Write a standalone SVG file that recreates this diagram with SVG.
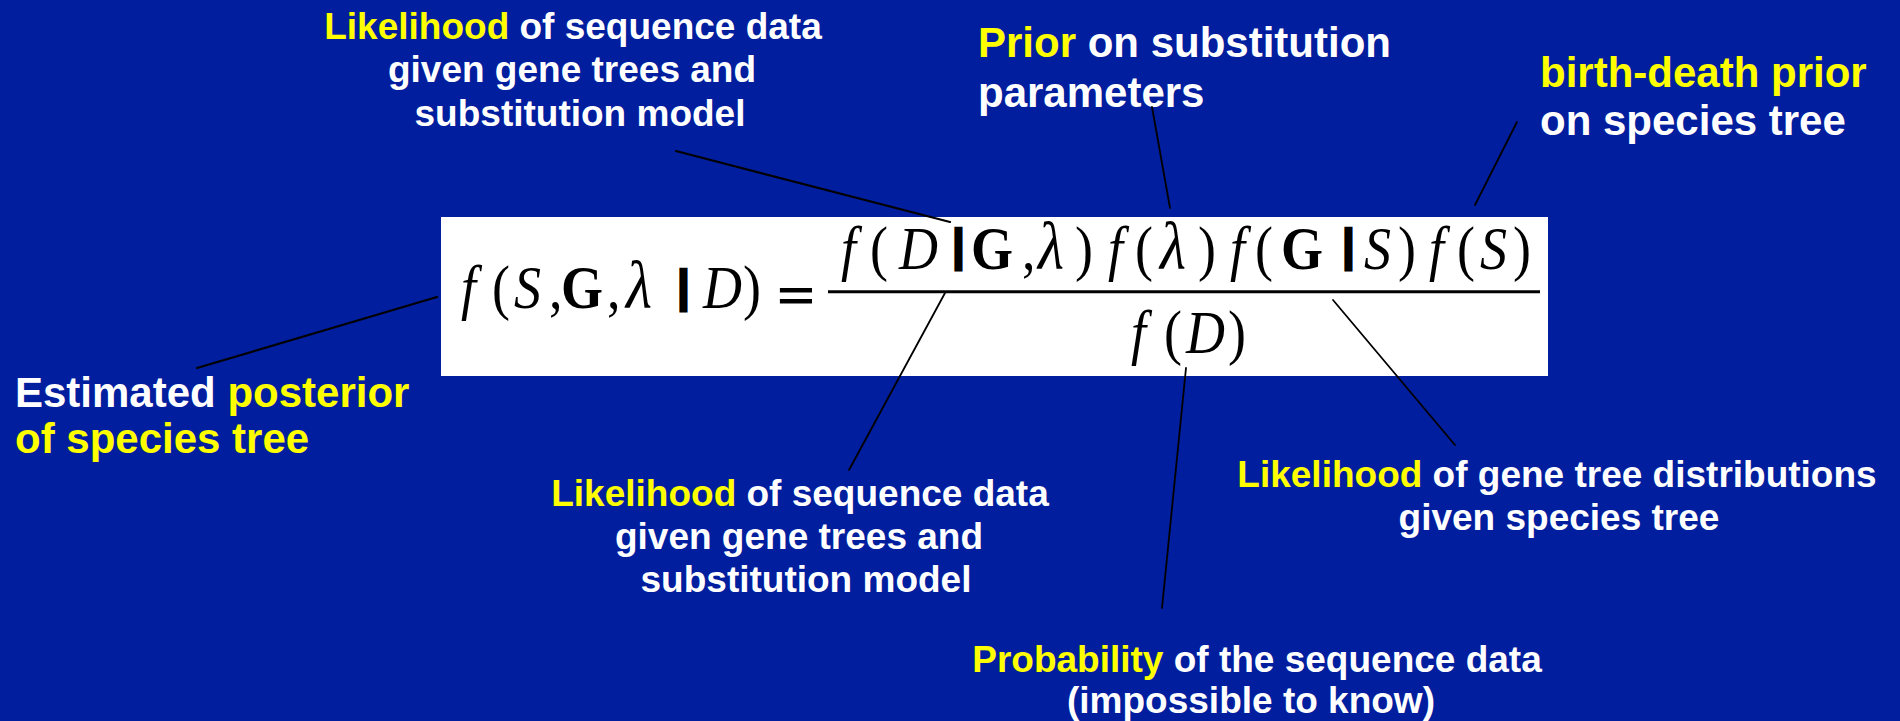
<svg xmlns="http://www.w3.org/2000/svg" width="1900" height="721" viewBox="0 0 1900 721">
<style>
.lbl{font-family:"Liberation Sans",Arial,sans-serif;font-weight:bold;fill:#fff}
.y{fill:#ffff00}
.s37{font-size:37px}
.s42{font-size:42px}
.eq{font-family:"Liberation Serif","Times New Roman",serif;font-size:54px;fill:#000}
.it{font-style:italic}
.bd{font-weight:bold}
.lam{font-style:italic;font-size:60px}
.bar{font-family:"Liberation Sans",Arial,sans-serif;font-weight:bold;font-size:44px;fill:#000;stroke:#000;stroke-width:2.5;text-anchor:middle}
.con line{stroke:#000;stroke-linecap:round}
</style>
<rect width="1900" height="721" fill="#001e9e"/>

<g id="equation">
<rect x="441" y="217" width="1107" height="159" fill="#fff"/>
<text class="eq" y="0" transform="translate(0,308) scale(1,1.12)"><tspan class="it" x="461">f</tspan><tspan x="492">(</tspan><tspan class="it" x="514">S</tspan><tspan x="549">,</tspan><tspan class="bd" x="561">G</tspan><tspan x="607">,</tspan><tspan class="lam" x="626">λ</tspan><tspan class="it" x="703">D</tspan><tspan x="743">)</tspan></text>
<text class="bar" x="683.5" y="301">|</text>
<text x="0" y="0" transform="translate(796,310) scale(1.6,1)" style="font-family:'Liberation Sans',Arial,sans-serif;font-weight:bold;font-size:40px;fill:#000" text-anchor="middle">=</text>
<line x1="828" y1="291.7" x2="1540" y2="291.7" stroke="#000" stroke-width="3"/>
<text class="eq" y="0" transform="translate(0,269) scale(1,1.12)"><tspan class="it" x="841">f</tspan><tspan x="870">(</tspan><tspan class="it" x="899">D</tspan><tspan class="bd" x="971">G</tspan><tspan x="1022">,</tspan><tspan class="lam" x="1038">λ</tspan><tspan x="1075">)</tspan><tspan class="it" x="1108">f</tspan><tspan x="1135">(</tspan><tspan class="lam" x="1160">λ</tspan><tspan x="1198">)</tspan><tspan class="it" x="1230">f</tspan><tspan x="1255">(</tspan><tspan class="bd" x="1281">G</tspan><tspan class="it" x="1364">S</tspan><tspan x="1398">)</tspan><tspan class="it" x="1429">f</tspan><tspan x="1457">(</tspan><tspan class="it" x="1480">S</tspan><tspan x="1513">)</tspan></text>
<text class="bar" x="958.5" y="260">|</text>
<text class="bar" x="1348.5" y="260">|</text>
<text class="eq" y="0" transform="translate(0,353) scale(1,1.12)"><tspan class="it" x="1131">f</tspan><tspan x="1164">(</tspan><tspan class="it" x="1186">D</tspan><tspan x="1228">)</tspan></text>
</g>

<g id="label-likelihood-top" class="lbl s37" text-anchor="middle">
<text x="573" y="39"><tspan class="y">Likelihood</tspan> of sequence data</text>
<text x="572" y="82">given gene trees and</text>
<text x="580" y="126">substitution model</text>
</g>

<g id="label-prior" class="lbl s42">
<text x="978" y="57"><tspan class="y">Prior</tspan> on substitution</text>
<text x="978" y="107">parameters</text>
</g>

<g id="label-birthdeath" class="lbl s42">
<text x="1540" y="87" class="y">birth-death prior</text>
<text x="1540" y="135">on species tree</text>
</g>

<g id="label-posterior" class="lbl s42">
<text x="15" y="407">Estimated <tspan class="y">posterior</tspan></text>
<text x="15" y="453" class="y">of species tree</text>
</g>

<g id="label-likelihood-bottom" class="lbl s37" text-anchor="middle">
<text x="800" y="506"><tspan class="y">Likelihood</tspan> of sequence data</text>
<text x="799" y="549">given gene trees and</text>
<text x="806" y="592">substitution model</text>
</g>

<g id="label-genetree" class="lbl s37" text-anchor="middle">
<text x="1557" y="487"><tspan class="y">Likelihood</tspan> of gene tree distributions</text>
<text x="1559" y="530">given species tree</text>
</g>

<g id="label-probability" class="lbl s37" text-anchor="middle">
<text x="1257" y="672"><tspan class="y">Probability</tspan> of the sequence data</text>
<text x="1251" y="713">(impossible to know)</text>
</g>

<g id="connectors" class="con">
<line x1="676" y1="151" x2="950" y2="222" stroke-width="2.2"/>
<line x1="1152" y1="107" x2="1170" y2="208" stroke-width="1.8"/>
<line x1="1517" y1="122" x2="1475" y2="205" stroke-width="1.8"/>
<line x1="197" y1="368" x2="437" y2="297" stroke-width="2.2"/>
<line x1="945" y1="293" x2="849" y2="470" stroke-width="1.8"/>
<line x1="1186" y1="368" x2="1162" y2="608" stroke-width="1.8"/>
<line x1="1333" y1="300" x2="1455" y2="445" stroke-width="1.8"/>
</g>
</svg>
